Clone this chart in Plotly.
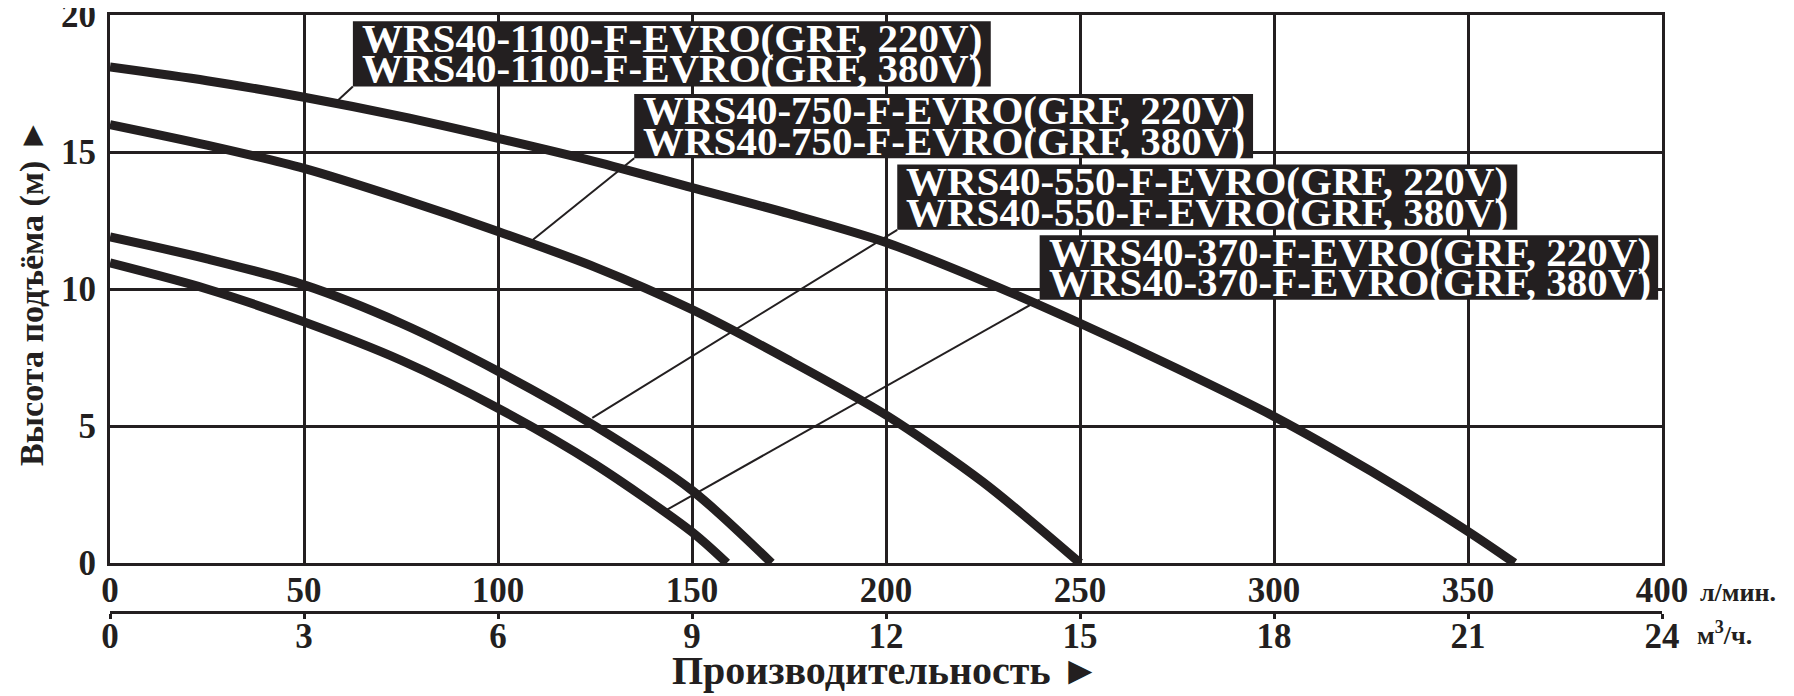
import plotly.graph_objects as go

# Напорно-расходные характеристики, подача в л/мин, напор в м
q_1100 = [0, 25, 50, 75, 100, 125, 150, 175, 200, 225, 250, 275, 300, 325, 350, 362]
h_1100 = [18.1, 17.6, 17.0, 16.3, 15.5, 14.65, 13.7, 12.75, 11.7, 10.3, 8.75, 7.1, 5.35, 3.35, 1.15, 0]

q_750 = [0, 25, 50, 75, 100, 125, 150, 175, 200, 225, 250]
h_750 = [16.0, 15.25, 14.4, 13.3, 12.1, 10.8, 9.25, 7.4, 5.4, 2.95, 0]

q_550 = [0, 25, 50, 75, 100, 125, 150, 170.5]
h_550 = [11.9, 11.1, 10.15, 8.75, 7.0, 5.0, 2.65, 0]

q_370 = [0, 25, 50, 75, 100, 125, 150, 159]
h_370 = [10.95, 10.0, 8.8, 7.4, 5.65, 3.6, 1.13, 0]

models = ["WRS40-1100-F-EVRO", "WRS40-750-F-EVRO", "WRS40-550-F-EVRO", "WRS40-370-F-EVRO"]
voltages = ["220V", "380V"]

lpm_ticks = [0, 50, 100, 150, 200, 250, 300, 350, 400]
m3h_ticks = [0, 3, 6, 9, 12, 15, 18, 21, 24]
head_ticks = [0, 5, 10, 15, 20]

INK = "#231f20"
FONT = "Liberation Serif"

fig = go.Figure()
for q, h in [(q_1100, h_1100), (q_750, h_750), (q_550, h_550), (q_370, h_370)]:
    fig.add_trace(go.Scatter(x=q, y=h, mode="lines", line=dict(color=INK, width=9, shape="spline", smoothing=0.8),
                             hoverinfo="skip", showlegend=False))
# пустой след, чтобы отрисовалась вторая шкала (м3/ч)
fig.add_trace(go.Scatter(x=[m3h_ticks[0], m3h_ticks[-1]], y=[None, None], xaxis="x2", mode="lines",
                         hoverinfo="skip", showlegend=False))

# подписи: рамка (x0, x1, y0, y1) и конец выноски на кривой
label_boxes = [
    (62.6, 227.0, 17.39, 19.77, 58.5, 16.85),
    (135.1, 294.6, 14.77, 17.12, 108.6, 11.75),
    (202.9, 362.7, 12.16, 14.54, 124.3, 5.3),
    (239.6, 399.0, 9.61, 11.96, 143.6, 1.95),
]
shapes = []
annotations = []
for name, (x0, x1, y0, y1, lx, ly) in zip(models, label_boxes):
    shapes.append(dict(type="line", x0=x0, y0=y0, x1=lx, y1=ly, line=dict(color=INK, width=2), layer="above"))
    shapes.append(dict(type="rect", x0=x0, x1=x1, y0=y0, y1=y1, fillcolor=INK, line=dict(width=0), layer="above"))
    for i, v in enumerate(voltages):
        annotations.append(dict(x=x0 + 1.8, y=y1 - 0.6 - 1.12 * i, xref="x", yref="y", xanchor="left",
                                yanchor="middle", showarrow=False, text=f"{name}(GRF, {v})",
                                font=dict(family=FONT, size=41, color="white", weight="bold")))

annotations += [
    dict(x=1.023, y=0.1527, xref="paper", yref="paper", xanchor="left", yanchor="middle",
         showarrow=False, text="л/мин.", font=dict(family=FONT, size=26, color=INK, weight="bold")),
    dict(x=1.021, y=0.0925, xref="paper", yref="paper", xanchor="left", yanchor="middle",
         showarrow=False, text="м<sup>3</sup>/ч.", font=dict(family=FONT, size=26, color=INK, weight="bold")),
    dict(x=0.5, y=0.038, xref="paper", yref="paper", xanchor="center", yanchor="middle",
         showarrow=False, text="Производительность ►", font=dict(family=FONT, size=40, color=INK, weight="bold")),
    dict(x=-0.0503, y=0.593, xref="paper", yref="paper", xanchor="center", yanchor="middle", textangle=-90,
         showarrow=False, text="Высота подъёма (м) ►", font=dict(family=FONT, size=34, color=INK, weight="bold")),
]

tick_font = dict(family=FONT, size=35, color=INK, weight="bold")
# страница html имеет отступ 8px, поэтому поля фигуры сдвинуты на 8px
fig.update_layout(
    width=1786, height=688,
    margin=dict(l=102, r=132, t=7, b=0),
    paper_bgcolor="white", plot_bgcolor="white",
    xaxis=dict(range=[0, 400], tickvals=lpm_ticks, showgrid=True, gridcolor=INK, gridwidth=3,
               showline=True, linecolor=INK, linewidth=3, mirror=True, zeroline=False, automargin=False,
               ticks="", tickfont=tick_font, ticklabelstandoff=-6, ticklabeloverflow="allow"),
    xaxis2=dict(range=[0, 24], tickvals=m3h_ticks, overlaying="x", anchor="free", position=0.1233,
                side="bottom", showgrid=False, showline=True, linecolor=INK, linewidth=3, zeroline=False,
                automargin=False, ticks="outside", ticklen=5, tickwidth=3, tickcolor=INK, tickfont=tick_font,
                ticklabelstandoff=-13, ticklabeloverflow="allow"),
    yaxis=dict(range=[0, 20], tickvals=head_ticks, domain=[0.1953, 1], showgrid=True, gridcolor=INK,
               gridwidth=3, showline=True, linecolor=INK, linewidth=3, mirror=True, zeroline=False,
               automargin=False, ticks="", tickfont=tick_font, ticklabelstandoff=4, ticklabeloverflow="allow"),
    shapes=shapes,
    annotations=annotations,
)

fig.write_html("out.html")
